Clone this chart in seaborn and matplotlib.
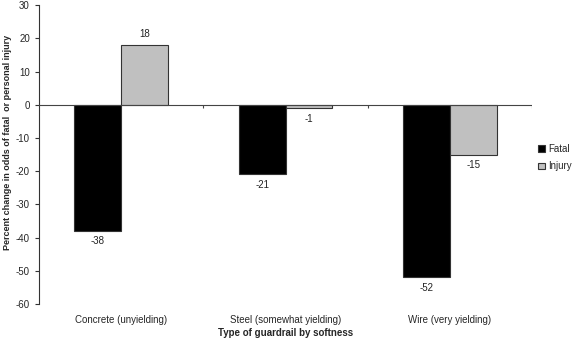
import pandas as pd
import seaborn as sns
import matplotlib.pyplot as plt

# data
categories = ["Concrete (unyielding)", "Steel (somewhat yielding)", "Wire (very yielding)"]
fatal = [-38, -21, -52]
injury = [18, -1, -15]

data = pd.DataFrame({
    "type": categories * 2,
    "series": ["Fatal"] * 3 + ["Injury"] * 3,
    "value": fatal + injury,
})

sns.set_style("white")
plt.rcParams["font.family"] = ["Liberation Sans", "DejaVu Sans"]
plt.rcParams["axes.unicode_minus"] = False

fig = plt.figure(figsize=(5.81, 3.40), dpi=100)
ax = fig.add_axes([0.067, 0.106, 0.849, 0.879])

sns.barplot(data=data, x="type", y="value", hue="series",
            palette={"Fatal": "#000000", "Injury": "#c0c0c0"},
            width=0.57, edgecolor="#333333", linewidth=0.8, ax=ax)

for cont in ax.containers:
    ax.bar_label(cont, fmt="%d", padding=4, fontsize=7, color="#222222")

ax.set_xlim(-0.5, 2.5)
ax.set_ylim(-60, 30)
ax.set_yticks(range(-60, 31, 10))
ax.tick_params(axis="y", labelsize=7, length=3, direction="out", left=True, color="#333333")
ax.tick_params(axis="x", labelsize=7, length=0, pad=8)

ax.axhline(0, color="#444444", linewidth=0.8, zorder=5)
# tick marks between categories on the zero line
ax.vlines([0.5, 1.5, 2.5], -0.9, 0, color="#444444", linewidth=0.8)

for s in ["top", "right", "bottom"]:
    ax.spines[s].set_visible(False)
ax.spines["left"].set_color("#333333")
ax.spines["left"].set_linewidth(0.8)

ax.set_xlabel("Type of guardrail by softness", fontsize=7, fontweight="bold", labelpad=2)
ax.set_ylabel("Percent change in odds of fatal  or personal injury", fontsize=6.5, fontweight="bold")
ax.yaxis.set_label_coords(-0.054, 0.54)

leg = ax.legend(loc="center left", bbox_to_anchor=(0.995, 0.49), frameon=False,
                fontsize=7, handlelength=0.7, handleheight=0.7, handletextpad=0.3,
                labelspacing=0.8)

plt.savefig("out.png", dpi=100)
